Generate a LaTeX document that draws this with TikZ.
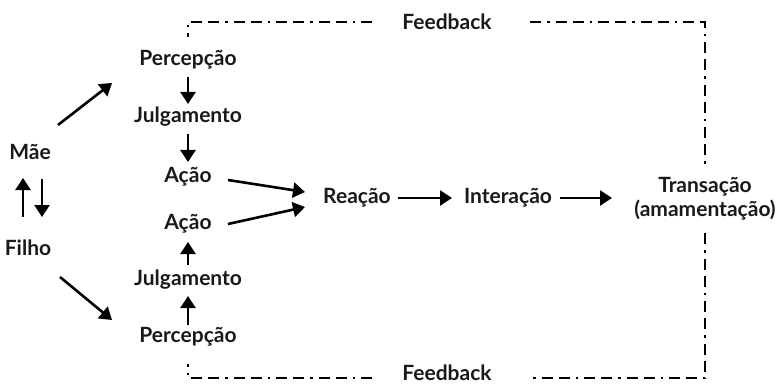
\documentclass[tikz,border=0pt]{standalone}
\usepackage{fontspec}
\setmainfont{Lato}
\usetikzlibrary{arrows.meta}
\tikzset{
  lbl/.style={font=\bfseries\fontsize{21}{23.5}\selectfont, inner sep=1pt, text=black!90},
  arr/.style={line width=2.6pt, -{Triangle[length=12pt,width=15pt]}},
  fb/.style={line width=2.4pt, dash pattern=on 11pt off 6pt on 2.5pt off 6pt on 11pt off 6pt}
}
\begin{document}
\begin{tikzpicture}[x=1pt,y=-1pt]
\useasboundingbox (0,0) rectangle (782,385);
\node[lbl] (mae) at (30,152) {Mãe};
\node[lbl] (filho) at (28,248) {Filho};
\node[lbl] (p1) at (188,60) {Percepção};
\node[lbl] (j1) at (188,117) {Julgamento};
\node[lbl] (a1) at (188,177) {Ação};
\node[lbl] (a2) at (188,224) {Ação};
\node[lbl] (j2) at (188,280) {Julgamento};
\node[lbl] (p2) at (188,337) {Percepção};
\node[lbl] (rea) at (357,198) {Reação};
\node[lbl] (int) at (508,198) {Interação};
\node[lbl, align=center] (tra) at (705,199) {Transação\\(amamentação)};
\node[lbl] (fbt) at (447,22) {Feedback};
\node[lbl] (fbb) at (447,373) {Feedback};
% mother-child arrows
\coordinate (u1) at (23,217); \coordinate (u2) at (23,178);
\coordinate (d1) at (42,179); \coordinate (d2) at (42,217);
\draw[arr] (u1) -- (u2);
\draw[arr] (d1) -- (d2);
\draw[arr] (58,125) -- (112,83);
\draw[arr] (60,277) -- (112,320);
% vertical chains
\draw[arr] (188,77) -- (188,104);
\draw[arr] (188,134) -- (188,162);
\draw[arr] (188,325) -- (188,296);
\draw[arr] (188,265) -- (188,242);
% to reaction
\draw[arr] (228,180) -- (305,192);
\draw[arr] (228,224) -- (305,207);
\draw[arr] (398,198) -- (452,198);
\draw[arr] (560,198) -- (612,198);
% feedback loops
\draw[fb] (372,22) -- (188,22) -- (188,37);
\draw[fb] (530,22) -- (705,22) -- (705,164);
\draw[fb] (705,233) -- (705,378) -- (530,378);
\draw[fb] (372,378) -- (188,378) -- (188,364);
\end{tikzpicture}
\end{document}
